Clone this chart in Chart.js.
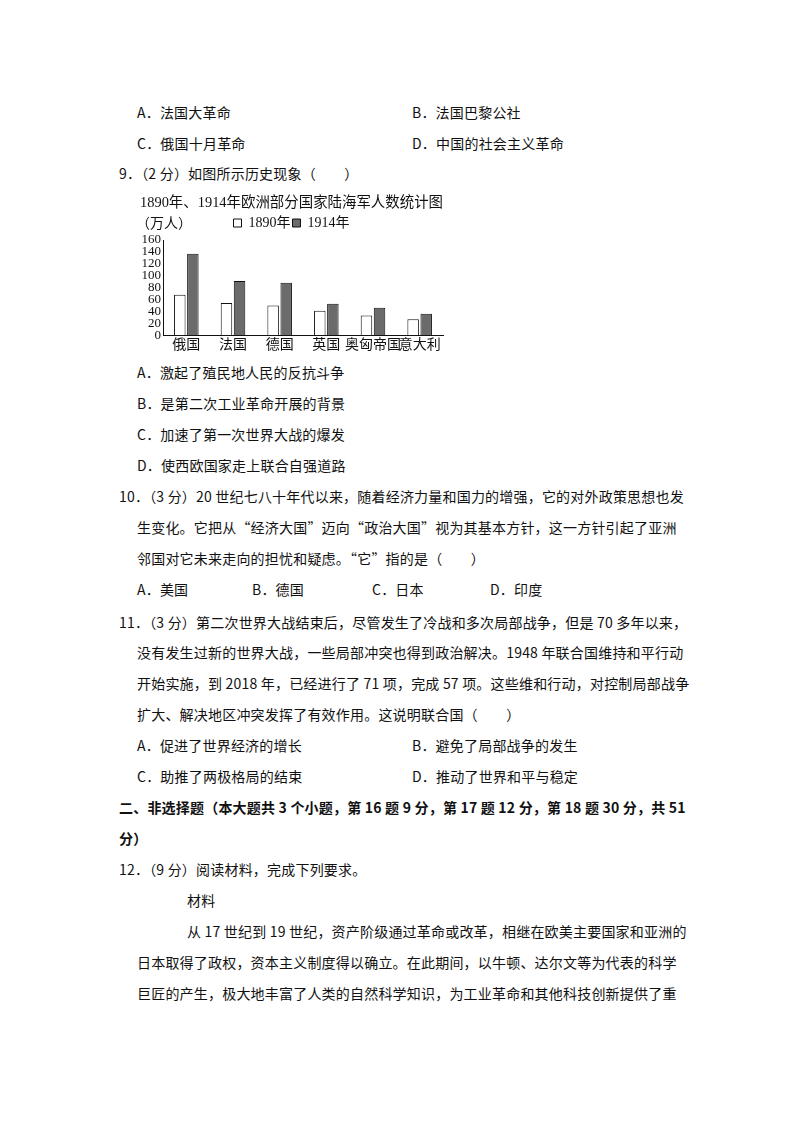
<!DOCTYPE html>
<html>
<head>
<meta charset="utf-8">
<script src="https://cdn.jsdelivr.net/npm/chart.js@4.4.1/dist/chart.umd.min.js"></script>
<style>
  body { margin: 0; background: #fff; }
  #page { position: relative; width: 794px; height: 1123px; font-family: "Noto Sans CJK SC", sans-serif; font-size: 14px; color: #111; }
  .ln { position: absolute; line-height: 20px; white-space: nowrap; letter-spacing: 0.2px; }
  .b { font-weight: bold; }
  #chartBox { position: absolute; left: 140px; top: 188px; width: 312px; height: 164px; }
  #unit { position: absolute; left: 136px; top: 212px; font-size: 14px; line-height: 20px; font-family: "Noto Sans CJK SC", sans-serif; }
</style>
</head>
<body>
<div id="page">
  <div class="ln" style="left:137px;top:102px">A．法国大革命</div>
  <div class="ln" style="left:412px;top:102px">B．法国巴黎公社</div>
  <div class="ln" style="left:137px;top:133px">C．俄国十月革命</div>
  <div class="ln" style="left:412px;top:133px">D．中国的社会主义革命</div>
  <div class="ln" style="left:119px;top:163px">9．（2 分）如图所示历史现象（　　）</div>

  <div id="chartBox"><canvas id="chart"></canvas></div>
  <div id="unit">（万人）</div>

  <div class="ln" style="left:137px;top:362px">A．激起了殖民地人民的反抗斗争</div>
  <div class="ln" style="left:137px;top:393px">B．是第二次工业革命开展的背景</div>
  <div class="ln" style="left:137px;top:424px">C．加速了第一次世界大战的爆发</div>
  <div class="ln" style="left:137px;top:455px">D．使西欧国家走上联合自强道路</div>
  <div class="ln" style="left:119px;top:486px">10．（3 分）20 世纪七八十年代以来，随着经济力量和国力的增强，它的对外政策思想也发</div>
  <div class="ln" style="left:137px;top:517px">生变化。它把从“经济大国”迈向“政治大国”视为其基本方针，这一方针引起了亚洲</div>
  <div class="ln" style="left:137px;top:548px">邻国对它未来走向的担忧和疑虑。“它”指的是（　　）</div>
  <div class="ln" style="left:137px;top:579px">A．美国</div>
  <div class="ln" style="left:252px;top:579px">B．德国</div>
  <div class="ln" style="left:372px;top:579px">C．日本</div>
  <div class="ln" style="left:490px;top:579px">D．印度</div>
  <div class="ln" style="left:119px;top:612px">11．（3 分）第二次世界大战结束后，尽管发生了冷战和多次局部战争，但是 70 多年以来，</div>
  <div class="ln" style="left:137px;top:642px">没有发生过新的世界大战，一些局部冲突也得到政治解决。1948 年联合国维持和平行动</div>
  <div class="ln" style="left:137px;top:673px">开始实施，到 2018 年，已经进行了 71 项，完成 57 项。这些维和行动，对控制局部战争</div>
  <div class="ln" style="left:137px;top:704px">扩大、解决地区冲突发挥了有效作用。这说明联合国（　　）</div>
  <div class="ln" style="left:137px;top:735px">A．促进了世界经济的增长</div>
  <div class="ln" style="left:412px;top:735px">B．避免了局部战争的发生</div>
  <div class="ln" style="left:137px;top:766px">C．助推了两极格局的结束</div>
  <div class="ln" style="left:412px;top:766px">D．推动了世界和平与稳定</div>
  <div class="ln b" style="left:119px;top:797px">二、非选择题（本大题共 3 个小题，第 16 题 9 分，第 17 题 12 分，第 18 题 30 分，共 51</div>
  <div class="ln b" style="left:119px;top:828px">分）</div>
  <div class="ln" style="left:119px;top:859px">12．（9 分）阅读材料，完成下列要求。</div>
  <div class="ln" style="left:187px;top:890px">材料</div>
  <div class="ln" style="left:187px;top:921px">从 17 世纪到 19 世纪，资产阶级通过革命或改革，相继在欧美主要国家和亚洲的</div>
  <div class="ln" style="left:137px;top:952px">日本取得了政权，资本主义制度得以确立。在此期间，以牛顿、达尔文等为代表的科学</div>
  <div class="ln" style="left:137px;top:983px">巨匠的产生，极大地丰富了人类的自然科学知识，为工业革命和其他科技创新提供了重</div>
</div>

<script>
const countries = ['俄国', '法国', '德国', '英国', '奥匈帝国', '意大利'];
const troops1890 = [68, 54, 50, 41, 33, 27];
const troops1914 = [137, 91, 88, 53, 46, 36];
const yTicks = [0, 20, 40, 60, 80, 100, 120, 140, 160];

const cjk = '"Noto Sans CJK SC", sans-serif';
const serif = '"Liberation Serif", "DejaVu Serif", serif';
const mixed = '"Liberation Serif", "Noto Sans CJK SC", serif';

new Chart(document.getElementById('chart'), {
  type: 'bar',
  data: {
    labels: countries,
    datasets: [{
      label: '1890年',
      data: troops1890,
      backgroundColor: '#ffffff',
      borderColor: '#111111',
      borderWidth: 1
    }, {
      label: '1914年',
      data: troops1914,
      backgroundColor: '#6b6b6b',
      borderColor: '#111111',
      borderWidth: 1
    }]
  },
  options: {
    responsive: true,
    maintainAspectRatio: false,
    animation: false,
    categoryPercentage: 0.56,
    barPercentage: 0.88,
    layout: { padding: { left: 0, right: 9, top: 5, bottom: 0 } },
    plugins: {
      title: {
        display: true,
        text: '1890年、1914年欧洲部分国家陆海军人数统计图',
        color: '#111',
        font: { family: mixed, size: 15, weight: 'normal' },
        padding: { top: 1, bottom: 2 }
      },
      legend: {
        display: true,
        position: 'top',
        labels: {
          color: '#111',
          font: { family: mixed, size: 14 },
          boxWidth: 8,
          boxHeight: 8,
          padding: 2,
          useBorderRadius: false
        }
      },
      tooltip: { enabled: false }
    },
    scales: {
      x: {
        grid: { display: false, drawTicks: false },
        border: { color: '#111', width: 1 },
        ticks: {
          color: '#111',
          font: { family: cjk, size: 14, lineHeight: 1.2 },
          padding: 0,
          maxRotation: 0,
          autoSkip: false
        }
      },
      y: {
        min: 0,
        max: 160,
        afterBuildTicks: (scale) => { scale.ticks = yTicks.map(v => ({ value: v })); },
        afterFit: (scale) => { scale.width = 23; },
        grid: { display: false, drawTicks: false },
        border: { color: '#111', width: 1 },
        ticks: {
          color: '#111',
          font: { family: serif, size: 13, lineHeight: 0.9 },
          padding: 2,
          autoSkip: false
        }
      }
    }
  }
});
</script>
</body>
</html>
